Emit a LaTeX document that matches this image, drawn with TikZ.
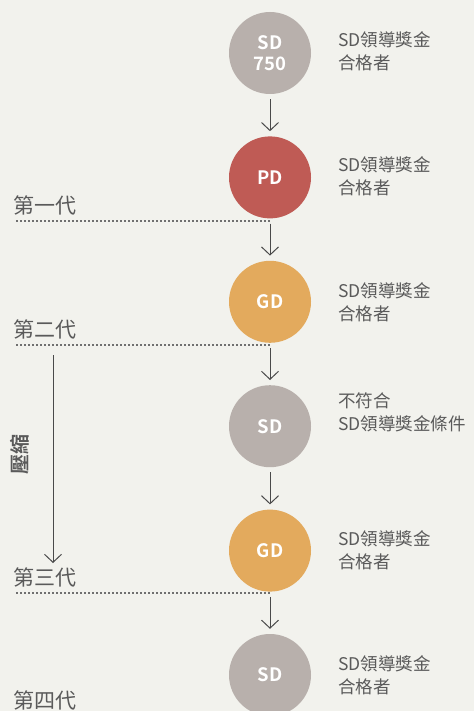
\documentclass[tikz,border=0pt]{standalone}
\usepackage{fontspec}
\setmainfont{Noto Sans CJK TC}[BoldFont={Noto Sans CJK TC Bold}]
\usetikzlibrary{positioning,arrows.meta}
\definecolor{bgcol}{HTML}{F2F2ED}
\definecolor{sdgray}{HTML}{B8B0AC}
\definecolor{pdred}{HTML}{BF5B55}
\definecolor{gdgold}{HTML}{E3AA5D}
\definecolor{txtgray}{HTML}{5A5A5A}
\definecolor{linegray}{HTML}{4A4A4A}
\definecolor{dotgray}{HTML}{707070}
\tikzset{
  rank/.style={circle, minimum size=82pt, inner sep=0pt, text=white,
    font=\fontsize{18.5}{21}\selectfont\bfseries, align=center},
  note/.style={inner sep=0pt, text=txtgray, align=left,
    font=\fontsize{17.5}{23}\selectfont},
  gen/.style={inner sep=0pt, text=txtgray, anchor=west,
    font=\fontsize{21}{24}\selectfont},
  genline/.style={draw=dotgray, line width=1.6pt, dash pattern=on 2pt off 2pt},
  flow/.style={->, draw=linegray, line width=1pt, shorten <=5pt, shorten >=5pt}
}
\begin{document}
\begin{tikzpicture}[x=1pt, y=-1pt, node distance=42pt,
    >={Straight Barb[length=8pt,width=17pt]}]
    \fill[bgcol] (0,0) rectangle (474,711);
    \useasboundingbox (0,0) rectangle (474,711);

    % Define ranks
    \node[rank, fill=sdgray] (sd1) at (270,53) {SD\\750};
    \node[rank, fill=pdred, below=of sd1] (pd) {PD};
    \node[rank, fill=gdgold, below=of pd] (gd1) {GD};
    \node[rank, fill=sdgray, below=of gd1] (sd2) {SD};
    \node[rank, fill=gdgold, below=of sd2] (gd2) {GD};
    \node[rank, fill=sdgray, below=of gd2] (sd3) {SD};

    % Notes beside the ranks
    \node[note, right=27pt of sd1, yshift=2pt] (n1) {SD領導獎金\\合格者};
    \node[note, right=27pt of pd, yshift=1pt] (n2) {SD領導獎金\\合格者};
    \node[note, right=27pt of gd1] (n3) {SD領導獎金\\合格者};
    \node[note, right=27pt of sd2, yshift=14pt] (n4) {不符合\\SD領導獎金條件};
    \node[note, right=27pt of gd2] (n5) {SD領導獎金\\合格者};
    \node[note, right=27pt of sd3] (n6) {SD領導獎金\\合格者};

    % Generations
    \node[gen] (g1) at (13,205) {第一代};
    \node[gen] (g2) at (13,329) {第二代};
    \node[gen] (g3) at (13,577) {第三代};
    \node[gen] (g4) at (13,700) {第四代};

    \coordinate (l1) at (16,221);
    \coordinate (l2) at (16,345);
    \coordinate (l3) at (16,593);
    \draw[genline] (l1) -- (l1 -| pd);
    \draw[genline] (l2) -- (l2 -| pd);
    \draw[genline] (l3) -- (l3 -| pd);

    % Transitions between ranks
    \draw[flow] (sd1) -- (pd);
    \draw[flow] (pd) -- (gd1);
    \draw[flow] (gd1) -- (sd2);
    \draw[flow] (sd2) -- (gd2);
    \draw[flow] (gd2) -- (sd3);

    % Compression
    \coordinate (c1) at (53,355);
    \coordinate (c2) at (53,563);
    \draw[->, draw=linegray, line width=1pt] (c1) -- (c2);
    \node[rotate=90, text=txtgray, inner sep=0pt,
      font=\fontsize{20}{22}\selectfont\bfseries] (zip) at (20,454) {壓縮};

    \end{tikzpicture}
\end{document}
